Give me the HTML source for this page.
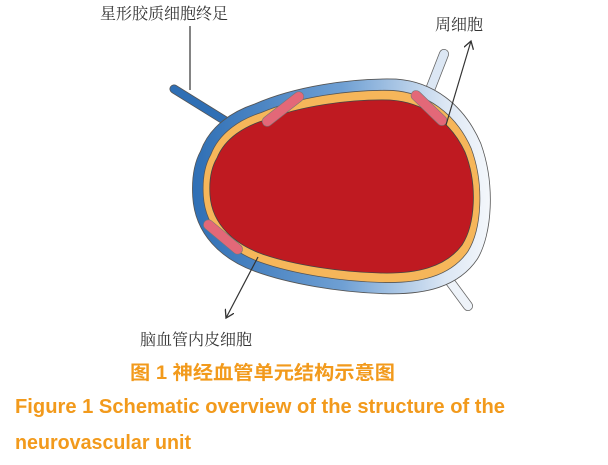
<!DOCTYPE html>
<html><head><meta charset="utf-8"><style>
html,body{margin:0;padding:0;background:#fff;width:608px;height:465px;overflow:hidden}
</style></head><body>
<svg width="608" height="465" viewBox="0 0 608 465" xmlns="http://www.w3.org/2000/svg">
<defs>
<linearGradient id="bl" x1="0" y1="0" x2="1" y2="0">
<stop offset="0" stop-color="#2f6fb5"/><stop offset="0.5" stop-color="#6e9fd3"/><stop offset="0.85" stop-color="#dce7f4"/><stop offset="1" stop-color="#f4f7fb"/>
</linearGradient>
<marker id="ar" markerWidth="10" markerHeight="10" refX="8" refY="5" orient="auto" markerUnits="userSpaceOnUse">
<path d="M0,0 L8,5 L0,10" fill="none" stroke="#333" stroke-width="1.3"/>
</marker>
<path id="blob" d="M217,158 C225,138 245,126 265,120 C300,106 350,99 390,100 C422,102 450,120 465,152 C478,185 475,225 462,245 C445,268 415,274 380,273 C340,272 295,265 265,255 C235,245 212,225 210,195 C209,180 211,168 217,158 Z"/>
</defs>
<!-- processes -->
<path d="M174,89 L232,125" stroke="#555" stroke-width="9" stroke-linecap="round"/>
<path d="M174,89 L232,125" stroke="#2f6fb5" stroke-width="7.5" stroke-linecap="round"/>
<path d="M444,54 L428,95" stroke="#666" stroke-width="10" stroke-linecap="round"/>
<path d="M444,54 L428,95" stroke="#dce7f4" stroke-width="8.5" stroke-linecap="round"/>
<path d="M468,306 L440,268" stroke="#666" stroke-width="10" stroke-linecap="round"/>
<path d="M468,306 L440,268" stroke="#eef3f9" stroke-width="8.5" stroke-linecap="round"/>
<!-- outer blue sheath -->
<use href="#blob" transform="translate(343,187) scale(1.13,1.24) translate(-343,-187)" fill="url(#bl)" stroke="#555" stroke-width="0.7"/>
<!-- orange basement -->
<use href="#blob" transform="translate(343,187) scale(1.05,1.11) translate(-343,-187)" fill="#f6b65a" stroke="#555" stroke-width="0.7"/>
<!-- lumen -->
<use href="#blob" fill="#bf1a21" stroke="#444" stroke-width="0.8"/>
<!-- pericytes -->
<rect x="258" y="104" width="50" height="10" rx="5" fill="#e36878" stroke="#777" stroke-width="0.6" transform="rotate(-38 283 109)"/>
<rect x="406" y="103" width="46" height="10" rx="5" fill="#e36878" stroke="#777" stroke-width="0.6" transform="rotate(44 429 108)"/>
<rect x="199" y="232" width="48" height="10" rx="5" fill="#e36878" stroke="#777" stroke-width="0.6" transform="rotate(40 223 237)"/>
<!-- labels -->
<g font-family="'Liberation Serif','Noto Serif CJK SC',serif" font-size="16" fill="#333">
<text x="100" y="19">星形胶质细胞终足</text>
<text x="435" y="30">周细胞</text>
<text x="140" y="345">脑血管内皮细胞</text>
</g>
<line x1="190" y1="26" x2="190" y2="90" stroke="#333" stroke-width="1.2"/>
<line x1="446" y1="125" x2="471" y2="41" stroke="#333" stroke-width="1.2" marker-end="url(#ar)"/>
<line x1="258" y1="257" x2="226" y2="318" stroke="#333" stroke-width="1.2" marker-end="url(#ar)"/>
<g font-family="'Liberation Sans','Noto Sans CJK SC',sans-serif" font-weight="bold" fill="#f29a1c">
<text x="130" y="379" font-size="19" textLength="265" lengthAdjust="spacingAndGlyphs">图 1  神经血管单元结构示意图</text>
<text x="15" y="413" font-size="20" textLength="490" lengthAdjust="spacingAndGlyphs">Figure 1  Schematic overview of the structure of the</text>
<text x="15" y="449" font-size="20" textLength="176" lengthAdjust="spacingAndGlyphs">neurovascular unit</text>
</g>
</svg>
</body></html>
